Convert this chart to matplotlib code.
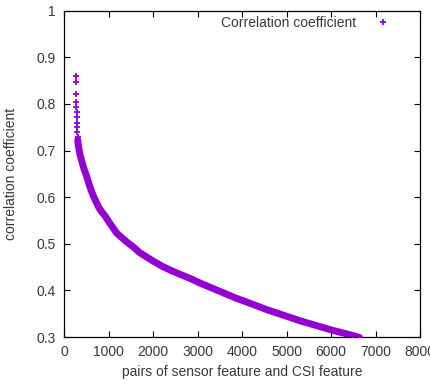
import matplotlib
matplotlib.use("Agg")
import matplotlib.pyplot as plt

# pairs index vs sorted correlation coefficient
pair_idx = [262, 266, 270, 274, 278, 282, 286, 290, 294, 298, 302, 306,
            320, 340, 360, 390, 420, 450, 490, 530, 570, 620, 670, 720,
            780, 850, 920, 1000, 1080, 1190, 1300, 1420, 1560, 1700, 1850,
            2020, 2200, 2400, 2620, 2850, 3050, 3250, 3450, 3650, 3850,
            4050, 4300, 4550, 4800, 5050, 5300, 5550, 5800, 6050, 6300,
            6500, 6640]
corr = [0.859, 0.847, 0.822, 0.804, 0.794, 0.783, 0.772, 0.759, 0.750,
        0.739, 0.730, 0.722, 0.712, 0.700, 0.690, 0.680, 0.670, 0.660,
        0.650, 0.638, 0.625, 0.612, 0.600, 0.590, 0.578, 0.568, 0.560,
        0.548, 0.537, 0.522, 0.513, 0.503, 0.493, 0.481, 0.472, 0.462,
        0.452, 0.443, 0.434, 0.425, 0.416, 0.408, 0.400, 0.392, 0.384,
        0.377, 0.368, 0.359, 0.351, 0.343, 0.335, 0.328, 0.321, 0.314,
        0.308, 0.303, 0.299]

xticks = [0, 1000, 2000, 3000, 4000, 5000, 6000, 7000, 8000]
yticks = [0.3, 0.4, 0.5, 0.6, 0.7, 0.8, 0.9, 1]

plt.rcParams['font.family'] = ['Liberation Sans', 'DejaVu Sans']
purple = '#9400D3'
txt = '#383838'

fig = plt.figure(figsize=(4.3, 3.8), dpi=100)
ax = fig.add_axes([0.149, 0.113, 0.828, 0.859])

# continuous band below the markers (steep top points stay as loose markers)
ax.plot(pair_idx[11:], corr[11:], color=purple, linewidth=5,
        solid_capstyle='round', zorder=2)
ax.plot(pair_idx, corr, linestyle='none', marker='+', markersize=5,
        markeredgewidth=1.3, color=purple, zorder=3,
        label='Correlation coefficient')

ax.set_xlim(0, 8000)
ax.set_ylim(0.3, 1)
ax.set_xticks(xticks)
ax.set_yticks(yticks)
ax.set_yticklabels([str(v) for v in yticks])
ax.tick_params(direction='in', length=4, width=0.8, top=True, right=True,
               labelsize=10, labelcolor=txt, pad=6)
for s in ax.spines.values():
    s.set_linewidth(0.9)

ax.set_xlabel('pairs of sensor feature and CSI feature', fontsize=10,
              color=txt, labelpad=4)
ax.set_ylabel('correlation coefficient', fontsize=10, color=txt, labelpad=13)

leg = ax.legend(loc='upper right', frameon=False, markerfirst=False,
                fontsize=10, handlelength=1.5, handletextpad=1.2,
                borderaxespad=0, bbox_to_anchor=(0.941, 1.0))
for t in leg.get_texts():
    t.set_color(txt)

fig.savefig('out.png', dpi=100)
